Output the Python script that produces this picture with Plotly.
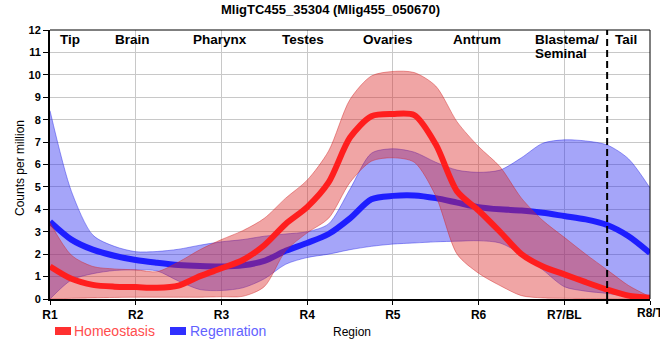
import plotly.graph_objects as go

# ---------------- data ----------------
regions = ["R1", "R2", "R3", "R4", "R5", "R6", "R7/BL", "R8/T"]
region_pos = [0, 1, 2, 3, 4, 5, 6, 7]

sample_x = [0, 0.25, 0.5, 0.75, 1, 1.25, 1.5, 1.75, 2, 2.25, 2.5, 2.75, 3, 3.25, 3.5,
            3.75, 4, 4.25, 4.5, 4.75, 5, 5.25, 5.5, 5.75, 6, 6.25, 6.5, 6.75, 7]

homeo_mean = [1.45, 0.9, 0.63, 0.55, 0.53, 0.5, 0.6, 1.02, 1.37, 1.74, 2.4, 3.35, 4.1, 5.2, 7.2,
              8.15, 8.25, 8.2, 6.9, 4.8, 3.95, 3.0, 2.0, 1.45, 1.1, 0.75, 0.42, 0.15, 0.05]
homeo_upper = [3.4, 1.95, 1.45, 1.34, 1.3, 1.22, 1.65, 2.2, 2.65, 3.05, 3.6, 4.5, 5.3, 6.6, 8.9,
               9.95, 10.15, 10.1, 9.5, 7.9, 6.8, 5.9, 4.5, 3.5, 2.75, 2.0, 1.3, 0.6, 0.1]
homeo_lower = [0.0, 0.03, 0.05, 0.07, 0.08, 0.08, 0.08, 0.08, 0.1, 0.12, 0.55, 2.15, 2.95, 3.6, 5.2,
               6.15, 6.3, 6.1, 4.6, 2.0, 1.15, 0.6, 0.15, 0.05, 0.03, 0.02, 0.02, 0.01, 0.0]

regen_mean = [3.45, 2.65, 2.2, 1.93, 1.74, 1.62, 1.52, 1.47, 1.45, 1.5, 1.7, 2.15, 2.5, 2.9, 3.6,
              4.45, 4.6, 4.62, 4.5, 4.3, 4.1, 4.0, 3.95, 3.85, 3.7, 3.55, 3.3, 2.8, 2.05]
regen_upper = [8.4, 4.8, 2.85, 2.35, 2.11, 2.12, 2.22, 2.4, 2.55, 2.65, 2.8, 2.9, 3.0, 3.35, 4.9,
               6.5, 6.7, 6.55, 6.1, 5.75, 5.65, 5.75, 6.3, 6.95, 7.1, 7.05, 6.87, 6.25, 4.95]
regen_lower = [0.0, 0.85, 1.13, 1.27, 1.3, 1.25, 0.8, 0.42, 0.38, 0.5, 0.9, 1.55, 1.85, 2.0, 2.2,
               2.35, 2.45, 2.5, 2.55, 2.58, 2.6, 2.5, 2.0, 1.3, 0.55, 0.35, 0.25, 0.12, 0.05]

tissue_names = ["Tip", "Brain", "Pharynx", "Testes", "Ovaries", "Antrum", "Tail"]
tissue_x = [0.23, 0.96, 1.98, 2.95, 3.94, 4.98, 6.72]
blastema_lines = ["Blastema/", "Seminal"]

# ---------------- styling ----------------
FONT = "Liberation Sans, Arial, sans-serif"
RED_LINE = "#ff1e1e"
BLUE_LINE = "#1e1eff"
RED_FILL = "rgba(220,40,40,0.42)"
BLUE_FILL = "rgba(40,40,240,0.42)"
RED_EDGE = "rgba(210,40,40,0.45)"
BLUE_EDGE = "rgba(40,40,230,0.45)"
SM = 0.8

fig = go.Figure()

# Regeneration band + line
fig.add_trace(go.Scatter(x=sample_x, y=regen_lower, mode="lines",
                         line=dict(color=BLUE_EDGE, width=1, shape="spline", smoothing=SM),
                         showlegend=False, hoverinfo="skip"))
fig.add_trace(go.Scatter(x=sample_x, y=regen_upper, mode="lines", fill="tonexty", fillcolor=BLUE_FILL,
                         line=dict(color=BLUE_EDGE, width=1, shape="spline", smoothing=SM),
                         showlegend=False, hoverinfo="skip"))
fig.add_trace(go.Scatter(x=sample_x, y=regen_mean, mode="lines", name="Regenration",
                         line=dict(color=BLUE_LINE, width=6, shape="spline", smoothing=SM), showlegend=False))

# Homeostasis band + line
fig.add_trace(go.Scatter(x=sample_x, y=homeo_lower, mode="lines",
                         line=dict(color=RED_EDGE, width=1, shape="spline", smoothing=SM),
                         showlegend=False, hoverinfo="skip"))
fig.add_trace(go.Scatter(x=sample_x, y=homeo_upper, mode="lines", fill="tonexty", fillcolor=RED_FILL,
                         line=dict(color=RED_EDGE, width=1, shape="spline", smoothing=SM),
                         showlegend=False, hoverinfo="skip"))
fig.add_trace(go.Scatter(x=sample_x, y=homeo_mean, mode="lines", name="Homeostasis",
                         line=dict(color=RED_LINE, width=6, shape="spline", smoothing=SM), showlegend=False))

# ---------------- layout ----------------
fig.update_layout(
    width=660, height=360,
    margin=dict(l=50, r=10, t=30, b=61),
    paper_bgcolor="white", plot_bgcolor="white",
    font=dict(family=FONT, size=12, color="black"),
    showlegend=False,
)
# last tick label is drawn as an annotation so it can run off the right edge like the reference
tick_text = regions[:-1] + [""]
fig.update_xaxes(
    range=[0, 7], tickvals=region_pos, ticktext=tick_text,
    showgrid=True, gridcolor="#c8c8c8", gridwidth=1,
    showline=True, linecolor="black", linewidth=2,
    ticks="outside", ticklen=4, tickwidth=1, tickcolor="black",
    tickfont=dict(family=FONT, size=12, color="black", weight="bold"),
    automargin=False, zeroline=False,
)
fig.update_yaxes(
    range=[0, 12], tickvals=list(range(0, 13)),
    showgrid=True, gridcolor="#c8c8c8", gridwidth=1,
    showline=True, linecolor="black", linewidth=2,
    ticks="outside", ticklen=5, tickwidth=1, tickcolor="black",
    tickfont=dict(family=FONT, size=11, color="black", weight="bold"),
    automargin=False, zeroline=False,
)

def py(p):  # screen pixel y -> paper y
    return (299 - p) / 269.0

def px_(p):  # screen pixel x -> paper x
    return (p - 50) / 600.0

shapes = [
    dict(type="line", xref="paper", yref="paper", x0=0, x1=1, y0=1, y1=1, line=dict(color="black", width=1)),
    dict(type="line", xref="paper", yref="paper", x0=1, x1=1, y0=0, y1=1, line=dict(color="black", width=1)),
    dict(type="line", xref="x", yref="paper", x0=6.5, x1=6.5, y0=0, y1=1,
         line=dict(color="black", width=2, dash="7px,4px"), layer="above"),
    dict(type="line", xref="x", yref="paper", x0=6.5, x1=6.5, y0=0, y1=-5 / 269.0,
         line=dict(color="black", width=2)),
    dict(type="rect", xref="paper", yref="paper", x0=px_(55), x1=px_(71), y0=py(335), y1=py(327),
         fillcolor="#ff3030", line=dict(width=0)),
    dict(type="rect", xref="paper", yref="paper", x0=px_(170), x1=px_(186), y0=py(335), y1=py(327),
         fillcolor="#3030ff", line=dict(width=0)),
]
fig.update_layout(shapes=shapes)

ann = []
ann.append(dict(text="<b>MligTC455_35304 (Mlig455_050670)</b>", xref="paper", yref="paper",
                x=px_(330), y=py(9), xanchor="center", yanchor="middle", showarrow=False,
                font=dict(family=FONT, size=13, color="black")))
ann.append(dict(text="<b>%s</b>" % regions[-1], xref="x", yref="paper", x=region_pos[-1], y=py(313),
                xanchor="center", yanchor="middle", showarrow=False,
                font=dict(family=FONT, size=12, color="black")))
for name, xv in zip(tissue_names, tissue_x):
    ann.append(dict(text="<b>%s</b>" % name, xref="x", yref="paper", x=xv, y=py(39),
                    xanchor="center", yanchor="middle", showarrow=False,
                    font=dict(family=FONT, size=13.5, color="black")))
for line_text, ypx in zip(blastema_lines, [39, 54]):
    ann.append(dict(text="<b>%s</b>" % line_text, xref="x", yref="paper", x=5.64, y=py(ypx),
                    xanchor="left", yanchor="middle", showarrow=False,
                    font=dict(family=FONT, size=13.5, color="black")))
ann.append(dict(text="Counts per million", xref="paper", yref="paper", x=px_(20), y=py(168),
                xanchor="center", yanchor="middle", textangle=-90, showarrow=False,
                font=dict(family=FONT, size=12, color="black")))
ann.append(dict(text="Region", xref="paper", yref="paper", x=px_(352), y=py(332),
                xanchor="center", yanchor="middle", showarrow=False,
                font=dict(family=FONT, size=12, color="black")))
ann.append(dict(text="Homeostasis", xref="paper", yref="paper", x=px_(72), y=py(331),
                xanchor="left", yanchor="middle", showarrow=False,
                font=dict(family=FONT, size=14, color="#ff4d4d")))
ann.append(dict(text="Regenration", xref="paper", yref="paper", x=px_(188), y=py(331),
                xanchor="left", yanchor="middle", showarrow=False,
                font=dict(family=FONT, size=14, color="#6262ff")))
fig.update_layout(annotations=ann)

# remove the default 8px page margin so the figure sits at the window's top-left corner
fig.write_html("out.html", config={"displayModeBar": False},
               post_script="document.body.style.margin='0';document.body.style.overflow='hidden';")
